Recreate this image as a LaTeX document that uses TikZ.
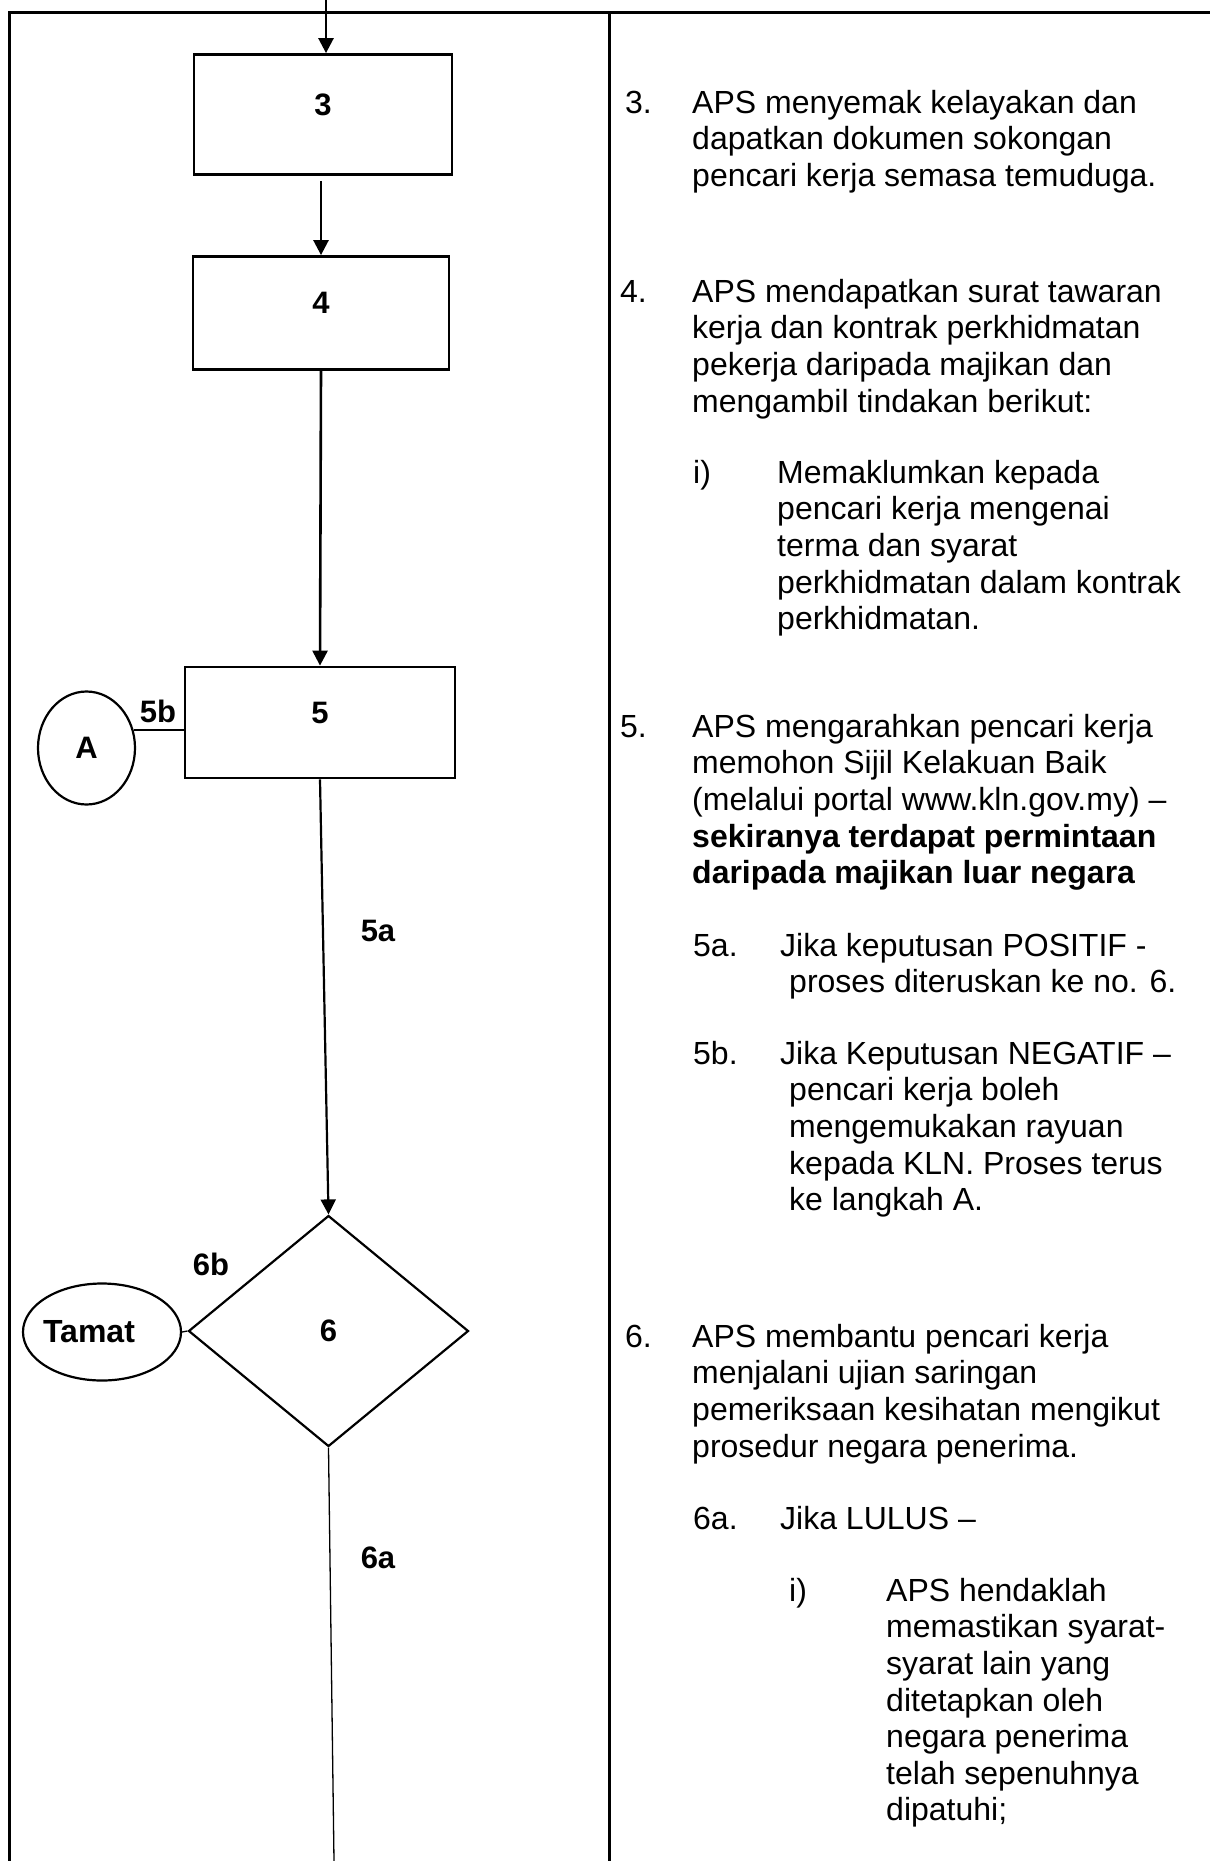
\documentclass[tikz,border=0pt]{standalone}
\usepackage{fontspec}
\setmainfont{Liberation Sans}
\usetikzlibrary{shapes.geometric,arrows.meta}

\begin{document}
\begin{tikzpicture}[x=1pt,y=-1pt,
    stepbox/.style={draw,line width=2.8pt,inner sep=0pt,font=\fontsize{31}{36}\selectfont\bfseries,text depth=20pt},
    lbl/.style={inner sep=0pt,font=\fontsize{31}{36}\selectfont\bfseries},
    txt/.style={anchor=north west,inner sep=0pt,align=left,font=\fontsize{32}{36.6}\selectfont},
    arr/.style={line width=2.6pt,-{Triangle[length=15pt,width=15pt]}},
    thinline/.style={line width=1.3pt}]
    \useasboundingbox (0,0) rectangle (1210,1861);
        \draw[line width=3pt] (1210,12) -- (9.5,12) -- (9.5,1861);
        \draw[line width=3pt] (609,12) -- (609,1861);

        \node[stepbox,minimum width=258pt,minimum height=120pt] (box3) at (323,114.5) {3};
        \node[stepbox,minimum width=256pt,minimum height=113pt] (box4) at (321,313) {4};
        \node[stepbox,minimum width=270pt,minimum height=111pt] (box5) at (320,722.5) {5};
        \node[diamond,draw,line width=2.2pt,inner sep=0pt,minimum width=280pt,minimum height=231pt,font=\fontsize{31}{36}\selectfont\bfseries] (dec6) at (328.5,1331) {6};
        \node[ellipse,draw,line width=2.2pt,inner sep=0pt,minimum width=97pt,minimum height=113pt,font=\fontsize{31}{36}\selectfont\bfseries] (A) at (86.5,748) {A};
        \node[ellipse,draw,line width=2.2pt,inner sep=0pt,minimum width=158pt,minimum height=97pt,font=\fontsize{32}{36}\selectfont\bfseries] (tamat) at (102,1332) {\hspace*{-26pt}Tamat};

        \coordinate (intop) at (326,0);
        \coordinate (bot) at (334,1861);
        \draw[arr] (intop) -- (intop |- box3.north);
        \draw[arr] ([yshift=-5pt]box3.south -| box4.north) -- (box4.north);
        \draw[arr] (box4.south) -- (box5.north);
        \draw[arr,line width=2.2pt] (box5.south) -- (dec6.north);
        \draw[thinline] (A.21) -- (A.21 -| box5.west);
        \draw[thinline] (tamat.east) -- (dec6.west);
        \draw[thinline] (dec6.south) -- (bot);

        \node[lbl] (l5b) at (158,711) {5b};
        \node[lbl] (l5a) at (378,931) {5a};
        \node[lbl] (l6b) at (211,1264) {6b};
        \node[lbl] (l6a) at (378,1558) {6a};

        \node[txt] (n3) at (625,87.4) {\strut 3.};
        \node[txt] (p3) at (692,87.4) {\strut APS menyemak kelayakan dan\\dapatkan dokumen sokongan\\pencari kerja semasa temuduga.};
        \node[txt] (n4) at (620,276.4) {\strut 4.};
        \node[txt] (p4) at (692,276.4) {\strut APS mendapatkan surat tawaran\\kerja dan kontrak perkhidmatan\\pekerja daripada majikan dan\\mengambil tindakan berikut:};
        \node[txt] (n4i) at (693,457.4) {\strut i)};
        \node[txt] (p4i) at (777,457.4) {\strut Memaklumkan kepada\\pencari kerja mengenai\\terma dan syarat\\perkhidmatan dalam kontrak\\perkhidmatan.};
        \node[txt] (n5) at (620,711.4) {\strut 5.};
        \node[txt] (p5) at (692,711.4) {\strut APS mengarahkan pencari kerja\\memohon Sijil Kelakuan Baik\\(melalui portal www.kln.gov.my) –\\\textbf{sekiranya terdapat permintaan}\\\textbf{daripada majikan luar negara}};
        \node[txt] (n5a) at (693,930.4) {\strut 5a.};
        \node[txt] (p5a) at (780,930.4) {\strut Jika keputusan POSITIF -\\\hspace*{9pt}proses diteruskan ke no. 6.};
        \node[txt] (n5b) at (693,1038.4) {\strut 5b.};
        \node[txt] (p5b) at (780,1038.4) {\strut Jika Keputusan NEGATIF –\\\hspace*{9pt}pencari kerja boleh\\\hspace*{9pt}mengemukakan rayuan\\\hspace*{9pt}kepada KLN. Proses terus\\\hspace*{9pt}ke langkah A.};
        \node[txt] (n6) at (625,1321.4) {\strut 6.};
        \node[txt] (p6) at (692,1321.4) {\strut APS membantu pencari kerja\\menjalani ujian saringan\\pemeriksaan kesihatan mengikut\\prosedur negara penerima.};
        \node[txt] (n6a) at (693,1503.4) {\strut 6a.};
        \node[txt] (p6a) at (780,1503.4) {\strut Jika LULUS –};
        \node[txt] (n6i) at (789,1575.4) {\strut i)};
        \node[txt] (p6i) at (886,1575.4) {\strut APS hendaklah\\memastikan syarat-\\syarat lain yang\\ditetapkan oleh\\negara penerima\\telah sepenuhnya\\dipatuhi;};
    \end{tikzpicture}
\end{document}
